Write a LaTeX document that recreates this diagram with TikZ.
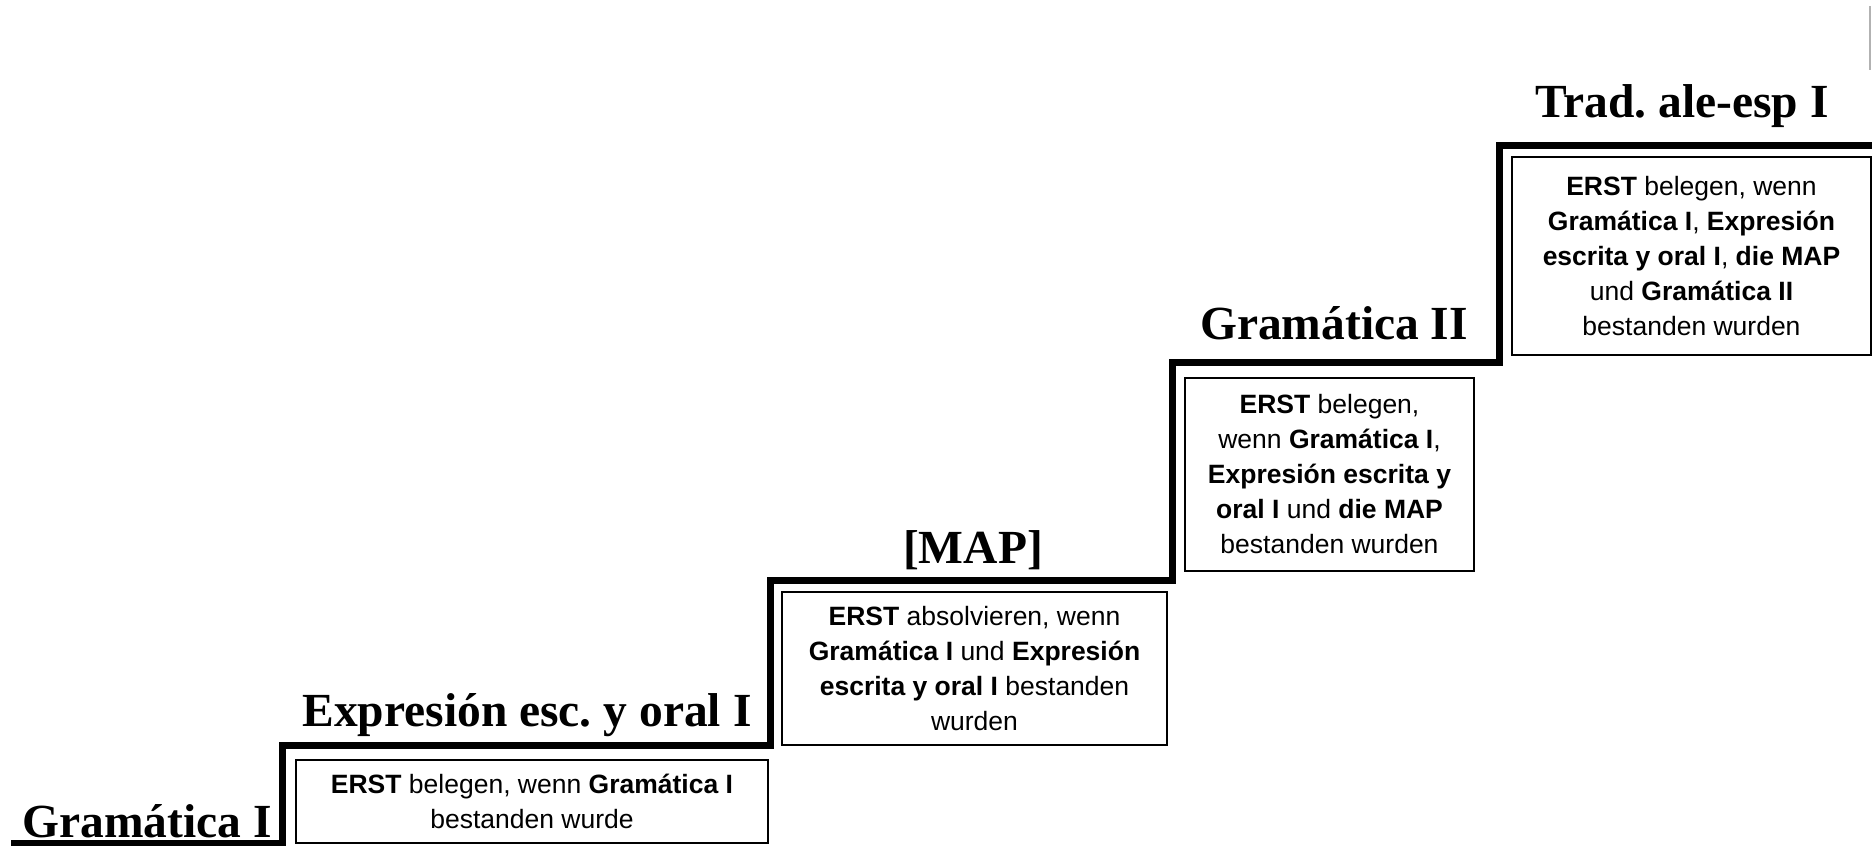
\documentclass[tikz,border=0pt]{standalone}
\usepackage{fontspec}
\setmainfont{Liberation Serif}
\newfontfamily\boxfont{Liberation Sans}
\frenchspacing
\begin{document}
\begin{tikzpicture}[x=1pt,y=-1pt,
  stair/.style={line width=7pt, line join=miter, line cap=rect},
  stepbox/.style={draw, line width=1.6pt, inner sep=0pt, align=center,
    font=\boxfont\fontsize{26.5}{35}\selectfont},
  steplabel/.style={anchor=base, inner sep=0pt,
    font=\fontsize{47.5}{57}\selectfont\bfseries}]
\useasboundingbox (0,0) rectangle (1872,846);
% staircase corners
\coordinate (s0) at (14,843);
\coordinate (s1) at (282,843);
\coordinate (s2) at (282,745);
\coordinate (s3) at (770,745);
\coordinate (s4) at (770,580);
\coordinate (s5) at (1172,580);
\coordinate (s6) at (1172,362);
\coordinate (s7) at (1499,362);
\coordinate (s8) at (1499,145);
\coordinate (s9) at (1875,145);
\draw[stair] (s0) -- (s1) -- (s2) -- (s3) -- (s4) -- (s5) -- (s6) -- (s7) -- (s8) -- (s9);
% faint edge mark
\coordinate (g0) at (1870,6);
\coordinate (g1) at (1870,70);
\draw[gray!60, line width=1.5pt] (g0) -- (g1);
% labels
\node[steplabel] (l1) at (147,837) {Gramática I};
\node[steplabel] (l2) at (527,726) {Expresión esc. y oral I};
\node[steplabel] (l3) at (973,563) {[MAP]};
\node[steplabel] (l4) at (1334,339) {Gramática II};
\node[steplabel] (l5) at (1682,117) {Trad. ale-esp I};
% boxes
\node[stepbox, minimum width=472pt, minimum height=83pt] (b1) at (532,801.5)
  {\textbf{ERST} belegen, wenn \textbf{Gramática I}\\bestanden wurde};
\node[stepbox, minimum width=385pt, minimum height=153pt] (b2) at (974.5,668.5)
  {\textbf{ERST} absolvieren, wenn\\\textbf{Gramática I} und \textbf{Expresión}\\\textbf{escrita y oral I} bestanden\\wurden};
\node[stepbox, minimum width=289pt, minimum height=193pt] (b3) at (1329.5,474.5)
  {\textbf{ERST} belegen,\\wenn \textbf{Gramática I},\\\textbf{Expresión escrita y}\\\textbf{oral I} und \textbf{die MAP}\\bestanden wurden};
\node[stepbox, minimum width=359pt, minimum height=198pt] (b4) at (1691.5,256)
  {\textbf{ERST} belegen, wenn\\\textbf{Gramática I}, \textbf{Expresión}\\\textbf{escrita y oral I}, \textbf{die MAP}\\und \textbf{Gramática II}\\bestanden wurden};
\end{tikzpicture}
\end{document}
